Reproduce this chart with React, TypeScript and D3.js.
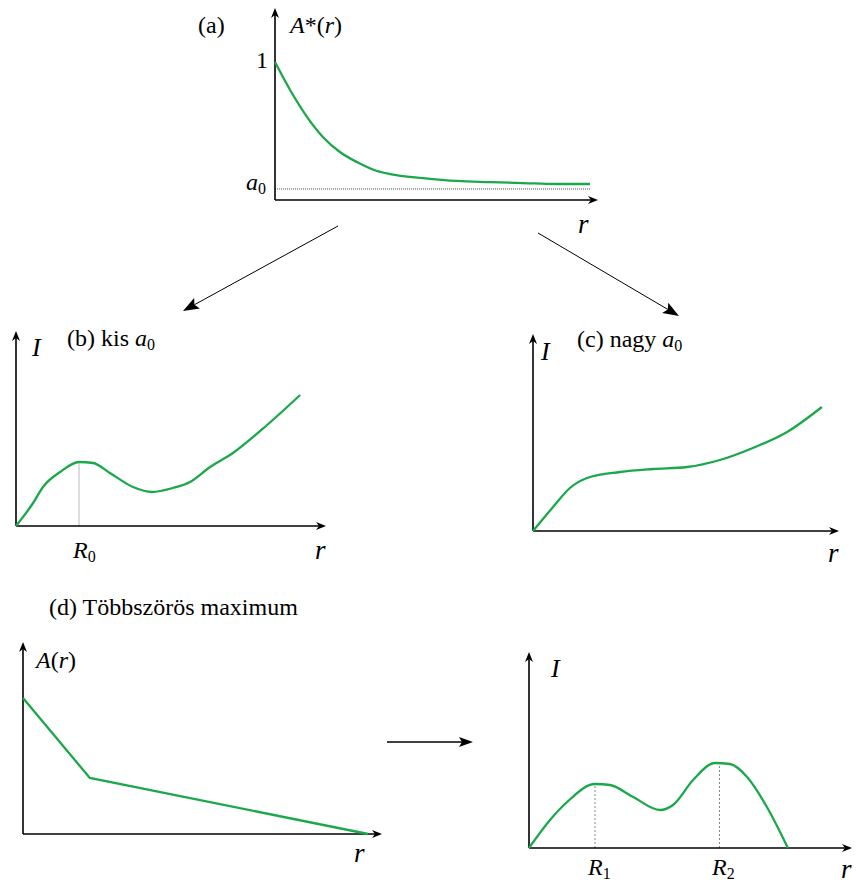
import React from "react";
import * as d3 from "d3";

// ---- data (domain units) ----
const panelA_x = [0, 0.48, 1.02, 1.52, 2.06, 2.6, 3.24, 3.65, 4.7, 5.78, 6.83, 7.87, 8.95, 10];
const panelA_y = [1, 0.797, 0.601, 0.457, 0.348, 0.275, 0.21, 0.188, 0.159, 0.138, 0.13, 0.123, 0.116, 0.116];
const a0Value = 0.08;

const panelB_x = [0, 0.57, 0.9, 1.47, 2.1, 2.57, 3.13, 3.9, 4.53, 5.23, 5.8, 6.47, 7.23, 8.37, 9.47];
const panelB_y = [0, 1.15, 1.95, 2.7, 3.2, 3.15, 2.65, 1.95, 1.7, 1.9, 2.2, 2.95, 3.65, 5.05, 6.55];
const R0 = 2.1;

const panelC_x = [0, 0.67, 1.23, 1.8, 2.9, 4, 5.13, 6.23, 7.33, 8.47, 9.63];
const panelC_y = [0, 1.2, 2.15, 2.65, 2.95, 3.1, 3.2, 3.55, 4.15, 4.95, 6.2];

const panelDL_x = [0, 1.91, 9.86];
const panelDL_y = [6.8, 2.8, 0];

const panelDR_x = [0, 0.7, 1.27, 2.2, 2.7, 3.47, 4.37, 4.8, 5.47, 6.2, 6.7, 7.27, 7.93, 8.63];
const panelDR_y = [0, 1.4, 2.3, 3.2, 3.15, 2.55, 1.9, 2.15, 3.4, 4.25, 4.2, 3.55, 2.05, 0];
const R1 = 2.2;
const R2 = 6.35;

const GREEN = "#1aa84b";
const FONT = "Liberation Serif";
const FS = 24;

type Frame = { ox: number; oy: number; xTip: number; yTip: number; xMax: number; yMax: number };

function arrowHead(x1: number, y1: number, x2: number, y2: number, len = 10, w = 4, notch = 3) {
  const ang = Math.atan2(y2 - y1, x2 - x1);
  const c = Math.cos(ang), s = Math.sin(ang);
  const pt = (a: number, b: number) => [x2 + a * c - b * s, y2 + a * s + b * c];
  const p1 = pt(-len, w), p3 = pt(-len, -w), pn = pt(-len + notch, 0);
  return `M${x2},${y2}L${p1[0]},${p1[1]}L${pn[0]},${pn[1]}L${p3[0]},${p3[1]}Z`;
}

function Arrow({ x1, y1, x2, y2, len = 10, w = 4, sw = 1.6 }: any) {
  const ang = Math.atan2(y2 - y1, x2 - x1);
  const ex = x2 - Math.cos(ang) * (len - 3);
  const ey = y2 - Math.sin(ang) * (len - 3);
  return (
    <g>
      <line x1={x1} y1={y1} x2={ex} y2={ey} stroke="#000" strokeWidth={sw} />
      <path d={arrowHead(x1, y1, x2, y2, len, w, 3)} fill="#000" />
    </g>
  );
}

function Axes({ f }: { f: Frame }) {
  return (
    <g>
      <Arrow x1={f.ox} y1={f.oy} x2={f.xTip} y2={f.oy} />
      <Arrow x1={f.ox} y1={f.oy} x2={f.ox} y2={f.yTip} />
    </g>
  );
}

function scales(f: Frame, xEnd: number, yEnd: number) {
  const x = d3.scaleLinear().domain([0, f.xMax]).range([f.ox, xEnd]);
  const y = d3.scaleLinear().domain([0, f.yMax]).range([f.oy, yEnd]);
  return { x, y };
}

function curvePath(xs: number[], ys: number[], sx: any, sy: any, curve: any) {
  const pts = xs.map((v, i) => [v, ys[i]] as [number, number]);
  return d3.line<[number, number]>().x((d) => sx(d[0])).y((d) => sy(d[1])).curve(curve)(pts) || "";
}

const T = ({ x, y, size = FS, children }: any) => (
  <text x={x} y={y} fontFamily={FONT} fontSize={size}>{children}</text>
);
const It = ({ children }: any) => <tspan fontStyle="italic">{children}</tspan>;
const Sub = ({ children }: any) => (
  <tspan fontSize={16} dy={4}>{children}</tspan>
);

export default function App() {
  const fA: Frame = { ox: 275, oy: 200, xTip: 598, yTip: 8, xMax: 10, yMax: 1 };
  const sA = scales(fA, 590, 62);
  const fB: Frame = { ox: 16, oy: 526, xTip: 326, yTip: 331, xMax: 10, yMax: 10 };
  const sB = scales(fB, 316, 326);
  const fC: Frame = { ox: 533, oy: 531, xTip: 839, yTip: 334, xMax: 10, yMax: 10 };
  const sC = scales(fC, 833, 331);
  const fDL: Frame = { ox: 23, oy: 834, xTip: 382, yTip: 642, xMax: 10, yMax: 10 };
  const sDL = scales(fDL, 373, 634);
  const fDR: Frame = { ox: 529, oy: 848, xTip: 852, yTip: 652, xMax: 10, yMax: 10 };
  const sDR = scales(fDR, 829, 648);

  const cm = d3.curveMonotoneX;
  const nearestY = (xs: number[], ys: number[], r: number) => {
    let best = 0;
    xs.forEach((v, i) => { if (Math.abs(v - r) < Math.abs(xs[best] - r)) best = i; });
    return ys[best];
  };

  return (
    <svg width={856} height={883} style={{ position: "absolute", left: 0, top: 0 }}>
      <rect x={0} y={0} width={856} height={883} fill="#fff" />
      {/* Panel A */}
      <line x1={sA.x(0)} x2={sA.x(10)} y1={sA.y(a0Value)} y2={sA.y(a0Value)} stroke="#555" strokeWidth={1} strokeDasharray="1,1" />
      <Axes f={fA} />
      <path d={curvePath(panelA_x, panelA_y, sA.x, sA.y, cm)} fill="none" stroke={GREEN} strokeWidth={2.3} />
      <T x={198} y={33}>(a)</T>
      <T x={290} y={33}><It>A</It>*(<It>r</It>)</T>
      <T x={256} y={68}>1</T>
      <T x={246} y={190}><It>a</It><Sub>0</Sub></T>
      <T x={578} y={233} size={27}><It>r</It></T>

      {/* connecting arrows */}
      <Arrow x1={338} y1={226} x2={183} y2={311} len={16} w={6} sw={1} />
      <Arrow x1={538} y1={233} x2={679} y2={316} len={16} w={6} sw={1} />

      {/* Panel B */}
      <line x1={sB.x(R0)} x2={sB.x(R0)} y1={sB.y(0)} y2={sB.y(nearestY(panelB_x, panelB_y, R0))} stroke="#bbb" strokeWidth={1} />
      <Axes f={fB} />
      <path d={curvePath(panelB_x, panelB_y, sB.x, sB.y, cm)} fill="none" stroke={GREEN} strokeWidth={2.3} />
      <T x={67} y={346}>(b) kis <It>a</It><Sub>0</Sub></T>
      <T x={32} y={356} size={26}><It>I</It></T>
      <T x={73} y={558}><It>R</It><Sub>0</Sub></T>
      <T x={315} y={559} size={27}><It>r</It></T>

      {/* Panel C */}
      <Axes f={fC} />
      <path d={curvePath(panelC_x, panelC_y, sC.x, sC.y, cm)} fill="none" stroke={GREEN} strokeWidth={2.3} />
      <T x={577} y={347}>(c) nagy <It>a</It><Sub>0</Sub></T>
      <T x={541} y={360} size={26}><It>I</It></T>
      <T x={828} y={562} size={27}><It>r</It></T>

      {/* Panel D title */}
      <T x={49} y={615}>(d) Többszörös maximum</T>

      {/* Panel D left */}
      <Axes f={fDL} />
      <path d={curvePath(panelDL_x, panelDL_y, sDL.x, sDL.y, d3.curveLinear)} fill="none" stroke={GREEN} strokeWidth={2.3} />
      <T x={36} y={668}><It>A</It>(<It>r</It>)</T>
      <T x={354} y={862} size={27}><It>r</It></T>

      {/* middle arrow */}
      <Arrow x1={387} y1={742} x2={473} y2={742} len={14} w={5} sw={1.3} />

      {/* Panel D right */}
      <line x1={sDR.x(R1)} x2={sDR.x(R1)} y1={sDR.y(0)} y2={sDR.y(nearestY(panelDR_x, panelDR_y, R1))} stroke="#888" strokeWidth={1} strokeDasharray="2,2" />
      <line x1={sDR.x(R2)} x2={sDR.x(R2)} y1={sDR.y(0)} y2={sDR.y(nearestY(panelDR_x, panelDR_y, R2))} stroke="#888" strokeWidth={1} strokeDasharray="2,2" />
      <Axes f={fDR} />
      <path d={curvePath(panelDR_x, panelDR_y, sDR.x, sDR.y, cm)} fill="none" stroke={GREEN} strokeWidth={2.3} />
      <T x={551} y={677} size={26}><It>I</It></T>
      <T x={588} y={875}><It>R</It><Sub>1</Sub></T>
      <T x={712} y={875}><It>R</It><Sub>2</Sub></T>
      <T x={841} y={878} size={27}><It>r</It></T>
    </svg>
  );
}
